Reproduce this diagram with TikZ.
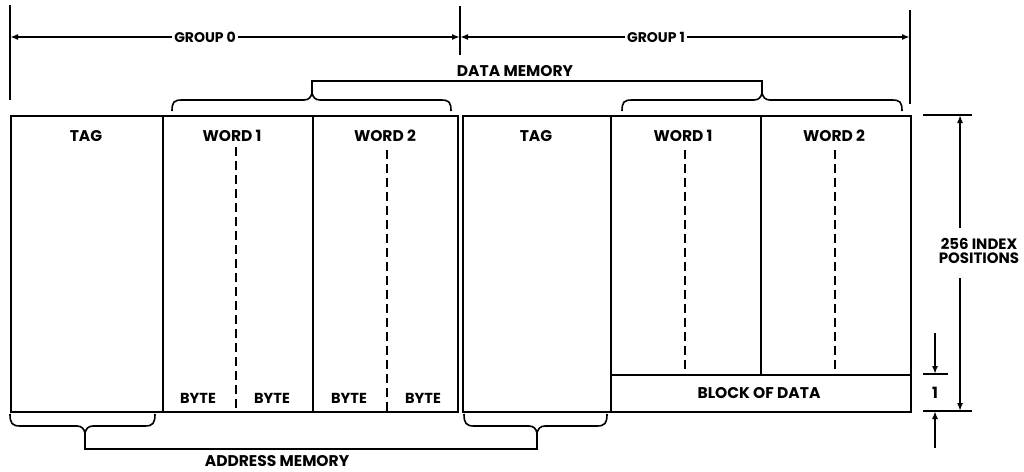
\documentclass[tikz,border=0pt]{standalone}
\usepackage{fontspec}
\setmainfont{Poppins}
\usetikzlibrary{arrows.meta}
\begin{document}
\begin{tikzpicture}[x=1pt,y=-1pt,
  ln/.style={line width=1.6pt},
  brk/.style={line width=1.6pt},
  cell/.style={draw, line width=2pt, inner sep=0pt, anchor=north west, minimum height=296pt},
  lbl/.style={font=\fontsize{15.5}{16}\selectfont\bfseries, inner sep=1pt},
  grpl/.style={font=\fontsize{14}{15}\selectfont\bfseries, inner sep=2pt, fill=white},
  bytel/.style={font=\fontsize{14.5}{15}\selectfont\bfseries, inner sep=1pt},
  dsh/.style={line width=1.6pt, dash pattern=on 9pt off 5pt},
  tipend/.style={-{Latex[length=8pt,width=6pt]}},
  tipboth/.style={{Latex[length=8pt,width=6pt]}-{Latex[length=8pt,width=6pt]}},
]
\useasboundingbox (0,0) rectangle (1024,471);

% cells
\node[cell, minimum width=152pt] (tag0) at (10,115) {};
\node[cell, minimum width=150pt] (w1a) at (162,115) {};
\node[cell, minimum width=145pt] (w2a) at (312,115) {};
\node[cell, minimum width=148pt] (tag1) at (462,115) {};
\node[cell, minimum width=150pt, minimum height=259pt] (w1b) at (610,115) {};
\node[cell, minimum width=150pt, minimum height=259pt] (w2b) at (760,115) {};
\node[cell, minimum width=300pt, minimum height=37pt] (blk) at (610,374) {};

% cell labels
\node[lbl] (ltag0) at (86,136) {TAG};
\node[lbl] (lw1a) at (232,136) {WORD 1};
\node[lbl] (lw2a) at (385,136) {WORD 2};
\node[lbl] (ltag1) at (536,136) {TAG};
\node[lbl] (lw1b) at (683,136) {WORD 1};
\node[lbl] (lw2b) at (834,136) {WORD 2};
\node[lbl] (lblk) at (759,393) {BLOCK OF DATA};
\node[bytel] (b1) at (198,398) {BYTE};
\node[bytel] (b2) at (272,398) {BYTE};
\node[bytel] (b3) at (349,398) {BYTE};
\node[bytel] (b4) at (423,398) {BYTE};

% dashed byte dividers
\coordinate (da1t) at (236,147); \coordinate (da1b) at (236,411);
\coordinate (da2t) at (387,150); \coordinate (da2b) at (387,411);
\coordinate (db1t) at (685,150); \coordinate (db1b) at (685,374);
\coordinate (db2t) at (835,150); \coordinate (db2b) at (835,374);
\draw[dsh] (da1t) -- (da1b);
\draw[dsh] (da2t) -- (da2b);
\draw[dsh] (db1t) -- (db1b);
\draw[dsh] (db2t) -- (db2b);

% top group dimension
\coordinate (x0t) at (10,5);   \coordinate (x0b) at (10,100);
\coordinate (xmt) at (460,6);  \coordinate (xmb) at (460,55);
\coordinate (x1t) at (910,10); \coordinate (x1b) at (910,104);
\draw[ln] (x0t) -- (x0b);
\draw[ln] (xmt) -- (xmb);
\draw[ln] (x1t) -- (x1b);
\coordinate (g0l) at (10,37); \coordinate (gm) at (460,37); \coordinate (g1r) at (910,37);
\draw[ln, tipboth] (g0l) -- (gm);
\draw[ln, tipboth] (gm) -- (g1r);
\node[grpl] (grp0) at (205,37) {GROUP 0};
\node[grpl] (grp1) at (656,37) {GROUP 1};

% data memory braces
\coordinate (dm0) at (312,93);
\coordinate (dm1) at (762,93);
\draw[brk] (172,111) .. controls (172,102) and (174,100) .. (182,100) -- (304,100)
  .. controls (309,100) and (311,97) .. (dm0) .. controls (313,97) and (315,100) .. (320,100)
  -- (441,100) .. controls (449,100) and (451,102) .. (451,111);
\draw[brk] (622,111) .. controls (622,102) and (624,100) .. (632,100) -- (754,100)
  .. controls (759,100) and (761,97) .. (dm1) .. controls (763,97) and (765,100) .. (770,100)
  -- (892,100) .. controls (900,100) and (902,102) .. (902,111);
\draw[brk] (dm0) -- ++(0,-12) -| (dm1);
\node[lbl] (dmem) at (515,71) {DATA MEMORY};

% address memory braces
\coordinate (am0) at (85,433);
\coordinate (am1) at (537,433);
\draw[brk] (10,414) .. controls (10,423) and (12,426) .. (20,426) -- (77,426)
  .. controls (82,426) and (84,429) .. (am0) .. controls (86,429) and (88,426) .. (93,426)
  -- (145,426) .. controls (153,426) and (155,423) .. (155,414);
\draw[brk] (464,414) .. controls (464,423) and (466,426) .. (474,426) -- (529,426)
  .. controls (534,426) and (536,429) .. (am1) .. controls (538,429) and (540,426) .. (545,426)
  -- (597,426) .. controls (605,426) and (607,423) .. (607,414);
\draw[brk] (am0) -- ++(0,16) -| (am1);
\node[lbl] (amem) at (277,461) {ADDRESS MEMORY};

% right dimensions
\coordinate (r1a) at (923,115); \coordinate (r1b) at (972,115);
\coordinate (r2a) at (923,374); \coordinate (r2b) at (948,374);
\coordinate (r3a) at (923,411); \coordinate (r3b) at (972,411);
\draw[ln] (r1a) -- (r1b);
\draw[ln] (r2a) -- (r2b);
\draw[ln] (r3a) -- (r3b);
\coordinate (dtop) at (960,115); \coordinate (dtg) at (960,228);
\coordinate (dbot) at (960,411); \coordinate (dbg) at (960,278);
\draw[ln, tipend] (dtg) -- (dtop);
\draw[ln, tipend] (dbg) -- (dbot);
\node[lbl, align=center, font=\fontsize{15}{13.5}\selectfont\bfseries] (idx) at (979,251) {256 INDEX\\POSITIONS};
\coordinate (s1a) at (935,333); \coordinate (s1b) at (935,374);
\coordinate (s2a) at (935,448); \coordinate (s2b) at (935,411);
\draw[ln, tipend] (s1a) -- (s1b);
\draw[ln, tipend] (s2a) -- (s2b);
\node[lbl] (one) at (935,393) {1};
\end{tikzpicture}
\end{document}
